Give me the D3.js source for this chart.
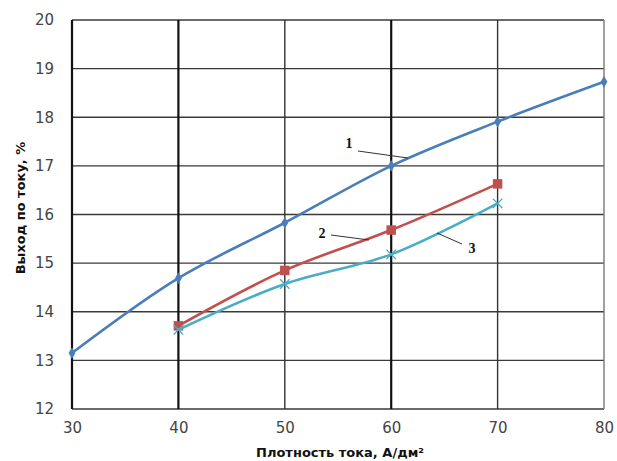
<!DOCTYPE html>
<html>
<head>
<meta charset="utf-8">
<script src="https://cdn.jsdelivr.net/npm/d3@7"></script>
<style>
  html, body { margin: 0; padding: 0; background: #fff; }
  svg { display: block; }
</style>
</head>
<body>
<svg id="chart" width="617" height="461"></svg>
<script>
// Current density, A/dm²
const density = [30, 40, 50, 60, 70, 80];
// Current efficiency, % — curves 1, 2, 3
const curve1 = [13.15, 14.69, 15.83, 17.0, 17.91, 18.73];
const curve2 = [null, 13.71, 14.85, 15.68, 16.63, null];
const curve3 = [null, 13.63, 14.57, 15.18, 16.23, null];
const xTicks = [30, 40, 50, 60, 70, 80];
const yTicks = [12, 13, 14, 15, 16, 17, 18, 19, 20];
const curveLabels = ["1", "2", "3"];

const svg = d3.select("#chart");
const plot = { left: 72, right: 604, top: 20, bottom: 409 };

const x = d3.scaleLinear().domain([30, 80]).range([plot.left, plot.right]);
const y = d3.scaleLinear().domain([12, 20]).range([plot.bottom, plot.top]);

// Grid
const grid = svg.append("g");
grid.selectAll("line.h").data(yTicks).join("line")
  .attr("x1", plot.left).attr("x2", plot.right)
  .attr("y1", d => y(d)).attr("y2", d => y(d))
  .attr("stroke", "#3a3a3a").attr("stroke-width", 1.4);
grid.selectAll("line.v").data(xTicks).join("line")
  .attr("x1", d => x(d)).attr("x2", d => x(d))
  .attr("y1", plot.top).attr("y2", plot.bottom)
  .attr("stroke", d => (d === 40 || d === 60 || d === 30) ? "#111" : (d === 80 ? "#777" : "#333"))
  .attr("stroke-width", d => (d === 40 || d === 60 || d === 30) ? 2.2 : 1.4);

// Axes (labels only, lines come from the grid)
const xAxis = svg.append("g").attr("transform", `translate(0,${plot.bottom})`)
  .call(d3.axisBottom(x).tickValues(xTicks).tickSize(0).tickPadding(13));
const yAxis = svg.append("g").attr("transform", `translate(${plot.left},0)`)
  .call(d3.axisLeft(y).tickValues(yTicks).tickSize(0).tickPadding(18));
[xAxis, yAxis].forEach(a => {
  a.select(".domain").remove();
  a.selectAll("text").attr("font-family", "DejaVu Sans, Verdana, sans-serif")
    .attr("font-size", 15).attr("fill", "#444");
});

// Axis titles
svg.append("text")
  .attr("x", 340).attr("y", 457)
  .attr("text-anchor", "middle")
  .attr("font-family", "DejaVu Sans, Verdana, sans-serif")
  .attr("font-weight", "bold").attr("font-size", 13).attr("fill", "#111")
  .text("Плотность тока, А/дм²");
svg.append("text")
  .attr("transform", "translate(25,208) rotate(-90)")
  .attr("text-anchor", "middle")
  .attr("font-family", "DejaVu Sans, Verdana, sans-serif")
  .attr("font-weight", "bold").attr("font-size", 13).attr("fill", "#111")
  .text("Выход по току, %");

// Curves
const series = [
  { values: curve1, color: "#4a7ebb", marker: "diamond" },
  { values: curve2, color: "#c0504d", marker: "square" },
  { values: curve3, color: "#4bacc6", marker: "cross" }
];
const line = d3.line()
  .defined(d => d[1] != null)
  .x(d => x(d[0])).y(d => y(d[1]))
  .curve(d3.curveCatmullRom.alpha(0.5));

series.forEach(s => {
  const pts = density.map((d, i) => [d, s.values[i]]).filter(p => p[1] != null);
  svg.append("path").datum(pts)
    .attr("d", line)
    .attr("fill", "none").attr("stroke", s.color).attr("stroke-width", 2.6);
  const g = svg.append("g");
  pts.forEach(p => {
    const cx = x(p[0]), cy = y(p[1]);
    if (s.marker === "diamond") {
      g.append("path")
        .attr("d", d3.symbol(d3.symbolDiamond, 40)())
        .attr("transform", `translate(${cx},${cy})`)
        .attr("fill", s.color);
    } else if (s.marker === "square") {
      g.append("path")
        .attr("d", d3.symbol(d3.symbolSquare, 90)())
        .attr("transform", `translate(${cx},${cy})`)
        .attr("fill", s.color);
    } else {
      g.append("path")
        .attr("d", d3.symbol(d3.symbolTimes, 60)())
        .attr("transform", `translate(${cx},${cy})`)
        .attr("fill", "none").attr("stroke", s.color).attr("stroke-width", 1.3);
    }
  });
});

// Curve labels with leader lines
const labelSpots = [
  { text: curveLabels[0], tx: 349, ty: 148, x1: 358, y1: 151, x2: 408, y2: 158 },
  { text: curveLabels[1], tx: 322, ty: 238, x1: 331, y1: 235, x2: 369, y2: 240 },
  { text: curveLabels[2], tx: 472, ty: 253, x1: 462, y1: 244, x2: 437, y2: 233 }
];
labelSpots.forEach(l => {
  svg.append("line")
    .attr("x1", l.x1).attr("y1", l.y1).attr("x2", l.x2).attr("y2", l.y2)
    .attr("stroke", "#333").attr("stroke-width", 1);
  svg.append("text")
    .attr("x", l.tx).attr("y", l.ty)
    .attr("text-anchor", "middle")
    .attr("font-family", "Liberation Serif, Times New Roman, serif")
    .attr("font-weight", "bold").attr("font-size", 14).attr("fill", "#111")
    .text(l.text);
});
</script>
</body>
</html>
